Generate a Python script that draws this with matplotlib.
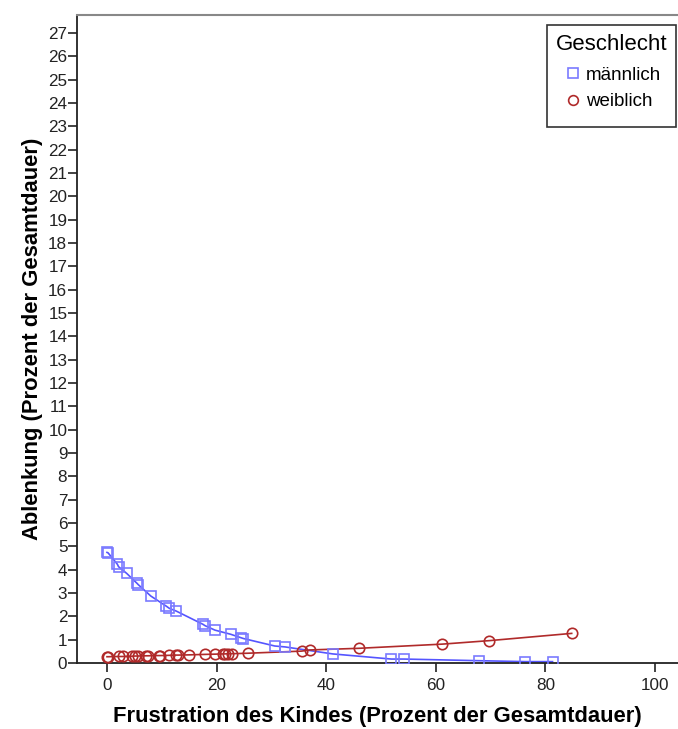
import matplotlib
matplotlib.use("Agg")
import matplotlib.pyplot as plt
from matplotlib.lines import Line2D
from matplotlib.patches import Rectangle

plt.rcParams['font.family'] = ['Liberation Sans', 'DejaVu Sans']

# Data
male_x = [0.0, 0.2, 1.9, 2.1, 3.6, 5.5, 5.7, 8.0, 10.8, 11.4, 12.6, 17.5, 17.9,
          19.7, 22.6, 24.5, 24.9, 30.6, 32.5, 41.2, 51.9, 54.2, 67.8, 76.3, 81.3]
male_y = [4.74, 4.72, 4.23, 4.13, 3.84, 3.41, 3.36, 2.87, 2.44, 2.34, 2.23, 1.66, 1.60,
          1.41, 1.23, 1.08, 1.05, 0.73, 0.69, 0.39, 0.17, 0.17, 0.10, 0.06, 0.06]

female_x = [0.0, 0.2, 2.1, 2.9, 4.5, 5.1, 5.7, 7.1, 7.4, 9.4, 9.7, 11.4, 12.6, 13.0,
            15.0, 17.9, 19.7, 21.1, 21.5, 22.1, 22.9, 25.7, 35.5, 37.0, 45.9, 61.2,
            69.8, 84.8]
female_y = [0.27, 0.27, 0.28, 0.28, 0.29, 0.30, 0.30, 0.31, 0.31, 0.32, 0.32, 0.33,
            0.34, 0.34, 0.35, 0.37, 0.38, 0.39, 0.39, 0.40, 0.40, 0.42, 0.51, 0.56,
            0.63, 0.81, 0.96, 1.27]

x_ticks = [0, 20, 40, 60, 80, 100]
y_ticks = list(range(0, 28))

blue_line = '#5555ff'
blue_mark = '#7a7aff'
red = '#b02a2a'

fig = plt.figure(figsize=(6.78, 7.29), dpi=100)
ax = fig.add_axes([0.1136, 0.0905, 0.8864, 0.8889])

ax.plot(male_x, male_y, '-', color=blue_line, lw=1.2, zorder=2)
ax.plot(male_x, male_y, 's', ms=6.5, mfc='none', mec=blue_mark, mew=1.2, zorder=3)
ax.plot(female_x, female_y, '-', color=red, lw=1.2, zorder=2)
ax.plot(female_x, female_y, 'o', ms=7.5, mfc='none', mec=red, mew=1.2, zorder=3)

ax.set_xlim(-5.47, 104.2)
ax.set_ylim(0, 27.77)
ax.set_xticks(x_ticks)
ax.set_yticks(y_ticks)
ax.tick_params(axis='both', direction='out', length=6.5, width=1.2, labelsize=12.3,
               colors='#222222')
ax.tick_params(axis='y', pad=0.5)
ax.tick_params(axis='x', pad=4)

for s in ['left', 'bottom']:
    ax.spines[s].set_color('#222222')
    ax.spines[s].set_linewidth(1.3)
ax.spines['top'].set_color('#888888')
ax.spines['top'].set_linewidth(1.5)
ax.spines['right'].set_visible(False)

ax.set_xlabel('Frustration des Kindes (Prozent der Gesamtdauer)', fontsize=15.8,
              fontweight='bold', labelpad=10)
ax.set_ylabel('Ablenkung (Prozent der Gesamtdauer)', fontsize=15.8,
              fontweight='bold', labelpad=4)

handles = [
    Line2D([], [], marker='s', ls='none', ms=6.5, mfc='none', mec=blue_mark, mew=1.2),
    Line2D([], [], marker='o', ls='none', ms=7, mfc='none', mec=red, mew=1.2),
]
leg = ax.legend(handles, ['männlich', 'weiblich'], title='Geschlecht',
                loc='upper right', bbox_to_anchor=(0.998, 0.9846),
                borderaxespad=0,
                fontsize=13.5, title_fontsize=16, fancybox=False,
                frameon=False, handletextpad=0.1,
                handlelength=1.2, borderpad=0.5, labelspacing=0.5)
leg._legend_box.sep = 8
leg.set_zorder(6)

# legend frame box (slightly taller than matplotlib's default frame)
box = Rectangle((0.782, 0.827), 0.2155, 0.1576, transform=ax.transAxes,
                facecolor='white', edgecolor='#333333', lw=1.2, zorder=5,
                clip_on=False)
ax.add_patch(box)

fig.savefig('out.png', dpi=100)
